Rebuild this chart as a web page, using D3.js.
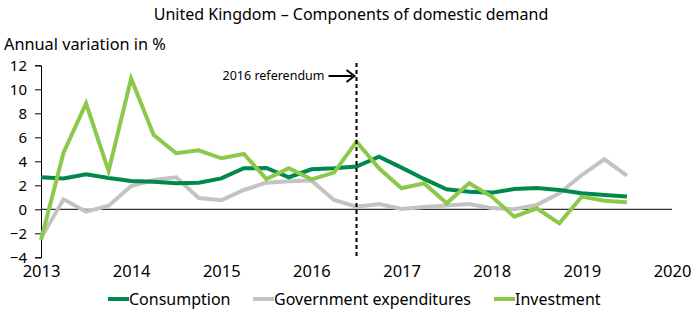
<!DOCTYPE html>
<html>
<head>
<meta charset="utf-8">
<script src="https://cdn.jsdelivr.net/npm/d3@7"></script>
<style>
  body { margin: 0; background: #fff; }
  text { font-family: "Noto Sans", sans-serif; fill: #000; }
</style>
</head>
<body>
<div id="chart"></div>
<script>
// UK - components of domestic demand, annual variation in %

const quarters = [2013.0, 2013.25, 2013.5, 2013.75, 2014.0, 2014.25, 2014.5, 2014.75,
  2015.0, 2015.25, 2015.5, 2015.75, 2016.0, 2016.25, 2016.5, 2016.75,
  2017.0, 2017.25, 2017.5, 2017.75, 2018.0, 2018.25, 2018.5, 2018.75,
  2019.0, 2019.25, 2019.5];

const consumption = [2.67, 2.56, 2.92, 2.61, 2.36, 2.30, 2.17, 2.22, 2.58, 3.42, 3.44, 2.67, 3.33, 3.42,
  3.56, 4.39, 3.47, 2.53, 1.67, 1.47, 1.39, 1.69, 1.78, 1.61, 1.33, 1.19, 1.06];
const government = [-2.4, 0.83, -0.2, 0.3, 1.94, 2.44, 2.67, 0.94, 0.75, 1.61, 2.22, 2.33, 2.39, 0.78,
  0.22, 0.44, 0.03, 0.19, 0.31, 0.44, 0.1, 0.0, 0.36, 1.33, 2.86, 4.17, 2.8];
const investment = [-2.56, 4.72, 8.83, 3.19, 10.9, 6.19, 4.67, 4.92, 4.25, 4.61, 2.53, 3.42, 2.5, 3.06,
  5.64, 3.42, 1.75, 2.17, 0.5, 2.17, 1.06, -0.61, 0.08, -1.17, 1.06, 0.72, 0.58];

const seriesNames = ["Consumption", "Government expenditures", "Investment"];
const seriesColors = ["#00884d", "#c3c3c3", "#8cc84b"];
const yTicks = [-4, -2, 0, 2, 4, 6, 8, 10, 12];
const xTicks = [2013, 2014, 2015, 2016, 2017, 2018, 2019, 2020];
const referendum = 2016.5;

const width = 691;
const height = 310;

const svg = d3.select("#chart").append("svg")
  .attr("width", width)
  .attr("height", height);

// scales
const x = d3.scaleLinear().domain([2013, 2020]).range([41, 672]);
const y = d3.scaleLinear().domain([-4, 12]).range([257.3, 65.3]);

// titres
svg.append("text")
  .attr("x", 351).attr("y", 20)
  .attr("text-anchor", "middle")
  .style("font-size", "16px")
  .text("United Kingdom \u2013 Components of domestic demand");

svg.append("text")
  .attr("x", 4).attr("y", 50)
  .style("font-size", "16.3px")
  .text("Annual variation in %");

// axe Y
const yAxis = svg.append("g")
  .attr("transform", `translate(${x(2013)},0)`)
  .call(d3.axisLeft(y).tickValues(yTicks).tickSize(6).tickPadding(8).tickFormat(d3.format("d")));
yAxis.selectAll("text").style("font-size", "15px").attr("fill", "#000");
yAxis.selectAll("line, path").attr("stroke", "#000");

// axe X (labels only)
const xAxis = svg.append("g")
  .attr("transform", `translate(0,${y(-4)})`)
  .call(d3.axisBottom(x).tickValues(xTicks).tickSize(0).tickPadding(8).tickFormat(d3.format("d")));
xAxis.select(".domain").remove();
xAxis.selectAll("text").style("font-size", "16.5px").attr("fill", "#000");

// ligne zero
svg.append("line")
  .attr("x1", x(2013)).attr("x2", x(2020))
  .attr("y1", y(0)).attr("y2", y(0))
  .attr("stroke", "#000").attr("stroke-width", 1);

// series
const allSeries = [consumption, government, investment];
const line = d3.line()
  .x((d, i) => x(quarters[i]))
  .y(d => y(d));

[1, 0, 2].forEach(k => {
  svg.append("path")
    .datum(allSeries[k])
    .attr("d", line)
    .attr("fill", "none")
    .attr("stroke", seriesColors[k])
    .attr("stroke-width", 4);
});

// referendum
svg.append("line")
  .attr("x1", x(referendum)).attr("x2", x(referendum))
  .attr("y1", 63).attr("y2", y(-4))
  .attr("stroke", "#000").attr("stroke-width", 2)
  .attr("stroke-dasharray", "4,3");

svg.append("text")
  .attr("x", x(referendum) - 32).attr("y", 80)
  .attr("text-anchor", "end")
  .style("font-size", "12.5px")
  .text("2016 referendum");

svg.append("line")
  .attr("x1", x(referendum) - 28).attr("x2", x(referendum) - 4)
  .attr("y1", 76).attr("y2", 76)
  .attr("stroke", "#000").attr("stroke-width", 2);
svg.append("path")
  .attr("d", `M${x(referendum) - 10},70 L${x(referendum) - 2},76 L${x(referendum) - 10},82`)
  .attr("fill", "none").attr("stroke", "#000").attr("stroke-width", 2);

// legende
const legendX = [108, 253, 494];
seriesNames.forEach((name, i) => {
  const g = svg.append("g").attr("transform", `translate(${legendX[i]},299)`);
  g.append("line").attr("x1", 0).attr("x2", 21).attr("y1", 0).attr("y2", 0)
    .attr("stroke", seriesColors[i]).attr("stroke-width", 4);
  g.append("text").attr("x", 21).attr("y", 5.5)
    .style("font-size", "16px")
    .text(name);
});
</script>
</body>
</html>
